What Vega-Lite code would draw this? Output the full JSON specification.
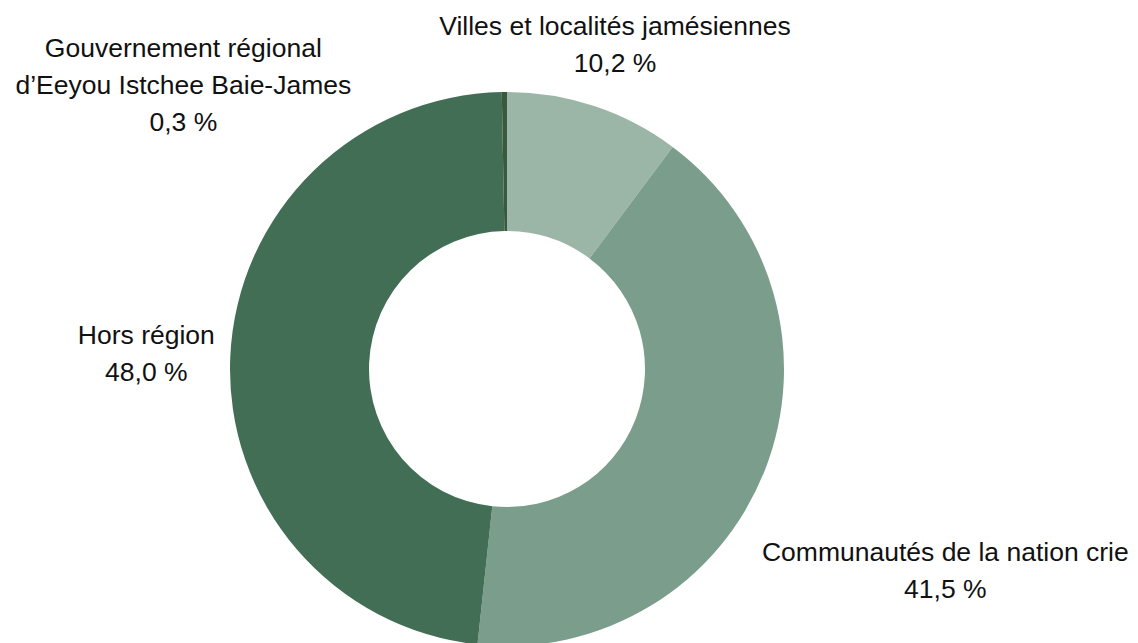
{
  "$schema": "https://vega.github.io/schema/vega-lite/v6.json",
  "width": 1014,
  "height": 738,
  "autosize": {"type": "none"},
  "padding": {"left": 0, "top": 0, "right": 124, "bottom": 0},
  "background": "white",
  "config": {"view": {"stroke": null}, "text": {"font": "Liberation Sans"}},
  "data": {
    "values": [
      {"categorie": "Villes et localités jamésiennes", "valeur": 10.2, "ordre": 1, "etiquette": "Villes et localités jamésiennes\n10,2 %"},
      {"categorie": "Communautés de la nation crie", "valeur": 41.5, "ordre": 2, "etiquette": "Communautés de la nation crie\n41,5 %"},
      {"categorie": "Hors région", "valeur": 48.0, "ordre": 3, "etiquette": "Hors région\n48,0 %"},
      {"categorie": "Gouvernement régional d’Eeyou Istchee Baie-James", "valeur": 0.3, "ordre": 4, "etiquette": "Gouvernement régional\nd’Eeyou Istchee Baie-James\n0,3 %"}
    ]
  },
  "encoding": {
    "theta": {"field": "valeur", "type": "quantitative", "stack": true},
    "order": {"field": "ordre", "type": "quantitative"},
    "detail": {"field": "categorie", "type": "nominal"}
  },
  "layer": [
    {
      "mark": {"type": "arc", "outerRadius": 277, "innerRadius": 138},
      "encoding": {
        "color": {
          "field": "categorie",
          "type": "nominal",
          "scale": {
            "domain": ["Villes et localités jamésiennes", "Communautés de la nation crie", "Hors région", "Gouvernement régional d’Eeyou Istchee Baie-James"],
            "range": ["#9bb6a6", "#7b9d8b", "#426e56", "#385a3c"]
          },
          "legend": null
        }
      }
    },
    {
      "mark": {"type": "text", "radius": 343, "dy": -16, "align": "center", "baseline": "middle", "fontSize": 26.5, "lineBreak": "\n", "lineHeight": 37, "color": "#111111"},
      "encoding": {
        "text": {"condition": {"test": "datum.ordre === 1", "field": "etiquette"}, "value": ""}
      }
    },
    {
      "mark": {"type": "text", "radius": 473, "dy": 11, "dx": -2, "align": "center", "baseline": "middle", "fontSize": 26.5, "lineBreak": "\n", "lineHeight": 37, "color": "#111111"},
      "encoding": {
        "text": {"condition": {"test": "datum.ordre === 2", "field": "etiquette"}, "value": ""}
      }
    },
    {
      "mark": {"type": "text", "radius": 361, "dy": -17, "align": "center", "baseline": "middle", "fontSize": 26.5, "lineBreak": "\n", "lineHeight": 37, "color": "#111111"},
      "encoding": {
        "text": {"condition": {"test": "datum.ordre === 3", "field": "etiquette"}, "value": ""}
      }
    },
    {
      "mark": {"type": "text", "radius": 284, "dx": -321, "dy": -36, "align": "center", "baseline": "middle", "fontSize": 26.5, "lineBreak": "\n", "lineHeight": 37, "color": "#111111"},
      "encoding": {
        "text": {"condition": {"test": "datum.ordre === 4", "field": "etiquette"}, "value": ""}
      }
    }
  ]
}
